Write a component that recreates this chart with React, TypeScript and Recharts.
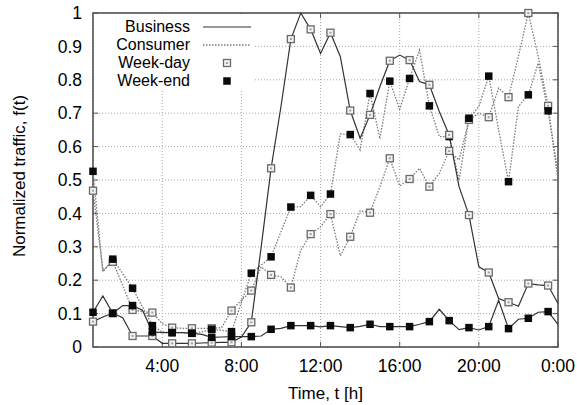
import React from 'react';
import { LineChart, Line, XAxis, YAxis, CartesianGrid, Legend, ReferenceArea, ReferenceLine } from 'recharts';

const FONT = '"Liberation Sans", Arial, Helvetica, sans-serif';

// half-hour sample points, markers sit on the x.5 ones
const hours = [
  0.5, 1, 1.5, 2, 2.5, 3, 3.5, 4, 4.5, 5, 5.5, 6, 6.5, 7, 7.5, 8,
  8.5, 9, 9.5, 10, 10.5, 11, 11.5, 12, 12.5, 13, 13.5, 14, 14.5, 15, 15.5, 16,
  16.5, 17, 17.5, 18, 18.5, 19, 19.5, 20, 20.5, 21, 21.5, 22, 22.5, 23, 23.5, 24,
];

const businessWeekday = [
  0.076, 0.09, 0.101, 0.088, 0.033, 0.033, 0.033, 0.011, 0.011, 0.011, 0.011, 0.012, 0.013, 0.014, 0.014, 0.03,
  0.074, 0.3, 0.535, 0.72, 0.922, 1.0, 0.951, 0.879, 0.941, 0.869, 0.708, 0.625, 0.695, 0.78, 0.857, 0.874,
  0.859, 0.795, 0.785, 0.705, 0.635, 0.48, 0.395, 0.24, 0.223, 0.145, 0.134, 0.122, 0.19, 0.186, 0.184, 0.13,
];

const businessWeekend = [
  0.104, 0.153, 0.101, 0.124, 0.124, 0.11, 0.045, 0.043, 0.043, 0.043, 0.041, 0.038, 0.029, 0.03, 0.031, 0.031,
  0.031, 0.033, 0.053, 0.056, 0.064, 0.064, 0.064, 0.06, 0.064, 0.061, 0.058, 0.062, 0.068, 0.061, 0.061, 0.061,
  0.061, 0.068, 0.076, 0.113, 0.079, 0.052, 0.058, 0.051, 0.061, 0.14, 0.055, 0.083, 0.086, 0.104, 0.106, 0.068,
];

const consumerWeekday = [
  0.468, 0.23, 0.255, 0.185, 0.111, 0.106, 0.103, 0.07, 0.058, 0.056, 0.056, 0.056, 0.056, 0.058, 0.109, 0.14,
  0.169, 0.24, 0.216, 0.21, 0.178, 0.29, 0.338, 0.36, 0.398, 0.273, 0.33, 0.408, 0.402, 0.48, 0.565, 0.482,
  0.503, 0.535, 0.48, 0.52, 0.587, 0.56, 0.68, 0.7, 0.688, 0.775, 0.748, 0.87, 1.0, 0.87, 0.722, 0.5,
];

const consumerWeekend = [
  0.526, 0.225, 0.263, 0.22, 0.176, 0.12, 0.064, 0.045, 0.043, 0.043, 0.041, 0.045, 0.053, 0.05, 0.046, 0.134,
  0.221, 0.245, 0.27, 0.345, 0.419, 0.42, 0.454, 0.42, 0.458, 0.638, 0.636, 0.59, 0.759, 0.624, 0.796, 0.712,
  0.804, 0.889, 0.722, 0.63, 0.63, 0.5, 0.685, 0.72, 0.811, 0.65, 0.495, 0.72, 0.755, 0.85, 0.707, 0.52,
];

const xTicks = [4, 8, 12, 16, 20, 24];
const yTicks = [0, 0.1, 0.2, 0.3, 0.4, 0.5, 0.6, 0.7, 0.8, 0.9, 1];

const legendRows = [
  { label: 'Business', kind: 'solid' },
  { label: 'Consumer', kind: 'dotted' },
  { label: 'Week-day', kind: 'open' },
  { label: 'Week-end', kind: 'filled' },
];

const data = hours.map((h, i) => ({
  h,
  bizDay: businessWeekday[i],
  bizEnd: businessWeekend[i],
  conDay: consumerWeekday[i],
  conEnd: consumerWeekend[i],
}));

const SOLID = '#333';
const DOTTED = '#7a7a7a';

const isMarkerHour = (h: number) => h % 1 === 0.5;

function OpenSquare(props: any) {
  const { cx, cy, payload, index } = props;
  if (cx == null || !isMarkerHour(payload.h)) return <g key={`o${index}`} />;
  return (
    <g key={`o${index}`}>
      <rect x={cx - 3.5} y={cy - 3.5} width={7} height={7} fill="#f3f3f3" stroke="#6a6a6a" strokeWidth={1.3} />
      <rect x={cx - 1} y={cy - 1} width={2} height={2} fill="#a0a0a0" />
    </g>
  );
}

function FilledSquare(props: any) {
  const { cx, cy, payload, index } = props;
  if (cx == null || !isMarkerHour(payload.h)) return <g key={`f${index}`} />;
  return <rect key={`f${index}`} x={cx - 3.75} y={cy - 3.75} width={7.5} height={7.5} fill="#0a0a0a" />;
}

function LegendBox() {
  return (
    <div style={{ position: 'relative', width: 160, height: 76, background: '#fff', fontFamily: FONT, fontSize: 16, color: '#000' }}>
      {legendRows.map((r, i) => (
        <div key={r.label} style={{ position: 'absolute', left: 0, top: 4 + i * 18, height: 18, display: 'flex', alignItems: 'center' }}>
          <span style={{ width: 96, textAlign: 'right', whiteSpace: 'nowrap', lineHeight: '18px' }}>{r.label}</span>
          <svg width={48} height={18} style={{ marginLeft: 13 }}>
            {r.kind === 'solid' && <line x1={0} x2={48} y1={9} y2={9} stroke={SOLID} strokeWidth={1.2} />}
            {r.kind === 'dotted' && <line x1={0} x2={48} y1={9} y2={9} stroke={DOTTED} strokeWidth={1.3} strokeDasharray="1.5 1.5" />}
            {r.kind === 'open' && (
              <g>
                <rect x={20.5} y={5.5} width={7} height={7} fill="#f3f3f3" stroke="#6a6a6a" strokeWidth={1.3} />
                <rect x={23} y={8} width={2} height={2} fill="#a0a0a0" />
              </g>
            )}
            {r.kind === 'filled' && <rect x={20.25} y={5.25} width={7.5} height={7.5} fill="#0a0a0a" />}
          </svg>
        </div>
      ))}
    </div>
  );
}

const fmtY = (v: number) => (v === 0 ? '0' : v === 1 ? '1' : v.toFixed(1));
const fmtX = (h: number) => `${h % 24}:00`;

export default function App() {
  const tickStyle = { fill: '#000', fontSize: 17.5, fontFamily: FONT };
  return (
    <div style={{ position: 'absolute', left: 0, top: 0, background: '#fff' }}>
      <LineChart width={577} height={405} data={data} margin={{ top: 13, right: 19, bottom: 0, left: 0 }}>
        <CartesianGrid stroke="#a8a8a8" strokeDasharray="1 2" />
        <XAxis
          dataKey="h"
          type="number"
          domain={[0.5, 24]}
          ticks={xTicks}
          tickFormatter={fmtX}
          height={58}
          axisLine={false}
          tickLine={false}
          tickSize={0}
          tickMargin={13}
          tick={tickStyle}
          label={{ value: 'Time, t [h]', position: 'insideBottom', offset: 6, fill: '#000', fontSize: 17, fontFamily: FONT }}
        />
        <YAxis
          type="number"
          domain={[0, 1]}
          ticks={yTicks}
          tickFormatter={fmtY}
          width={93}
          axisLine={false}
          tickLine={false}
          tickSize={0}
          tickMargin={11}
          tick={tickStyle}
          label={() => (
            <text x={19} y={176} transform="rotate(-90 19 176)" textAnchor="middle" dominantBaseline="central"
              fill="#000" fontSize={17} fontFamily={FONT}>
              Normalized traffic, f(t)
            </text>
          )}
        />
        {/* inward mirror ticks */}
        {yTicks.map((v) => (
          <ReferenceLine key={`yl${v}`} segment={[{ x: 0.5, y: v }, { x: 0.75, y: v }]} stroke="#555" strokeWidth={1} />
        ))}
        {yTicks.map((v) => (
          <ReferenceLine key={`yr${v}`} segment={[{ x: 23.75, y: v }, { x: 24, y: v }]} stroke="#555" strokeWidth={1} />
        ))}
        {xTicks.map((t) => (
          <ReferenceLine key={`xb${t}`} segment={[{ x: t, y: 0 }, { x: t, y: 0.015 }]} stroke="#555" strokeWidth={1} />
        ))}
        {xTicks.map((t) => (
          <ReferenceLine key={`xt${t}`} segment={[{ x: t, y: 0.985 }, { x: t, y: 1 }]} stroke="#555" strokeWidth={1} />
        ))}
        <Legend layout="vertical" align="center" verticalAlign="middle" content={() => <LegendBox />}
          wrapperStyle={{ left: 94, top: 14, width: 160, height: 76 }} />
        <ReferenceArea x1={0.5} x2={24} y1={0} y2={1} fill="none" stroke="#4a4a4a" strokeWidth={1.5} />
        <Line dataKey="conDay" stroke={DOTTED} strokeWidth={1.3} strokeDasharray="1.5 1.5" dot={OpenSquare} activeDot={false} isAnimationActive={false} />
        <Line dataKey="conEnd" stroke={DOTTED} strokeWidth={1.3} strokeDasharray="1.5 1.5" dot={FilledSquare} activeDot={false} isAnimationActive={false} />
        <Line dataKey="bizDay" stroke={SOLID} strokeWidth={1.2} dot={OpenSquare} activeDot={false} isAnimationActive={false} />
        <Line dataKey="bizEnd" stroke={SOLID} strokeWidth={1.2} dot={FilledSquare} activeDot={false} isAnimationActive={false} />
      </LineChart>
    </div>
  );
}
